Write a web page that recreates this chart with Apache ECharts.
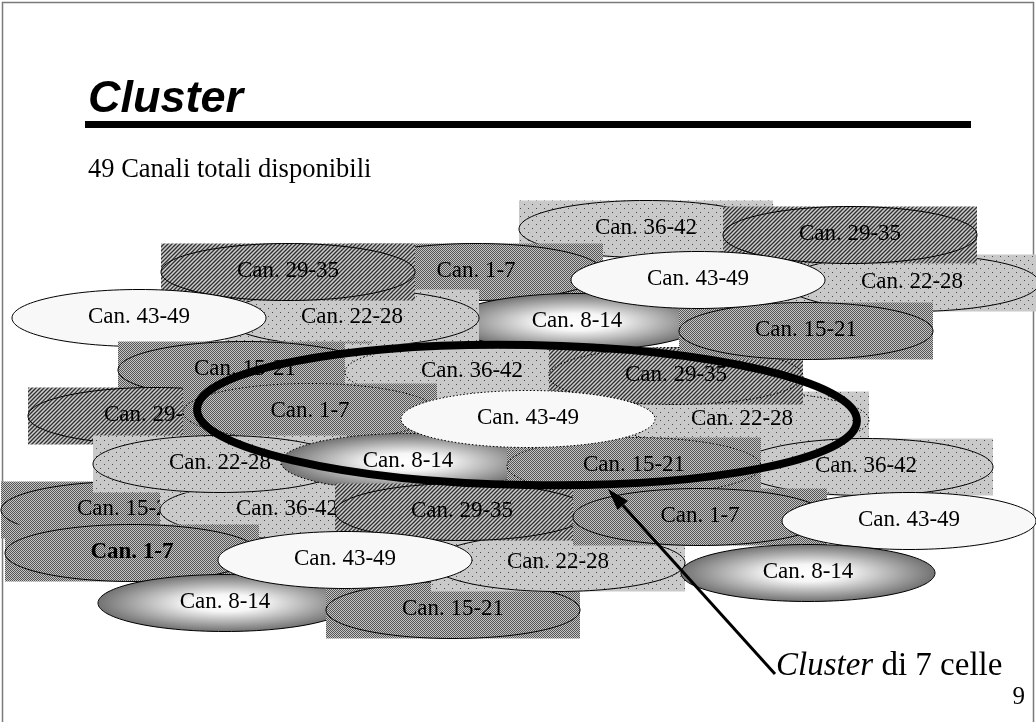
<!DOCTYPE html>
<html>
<head>
<meta charset="utf-8">
<script src="https://cdn.jsdelivr.net/npm/echarts@6/dist/echarts.min.js"></script>
<style>
  html, body { margin: 0; padding: 0; background: #fff; }
  #chart { width: 1036px; height: 722px; }
</style>
</head>
<body>
<div id="chart"></div>
<script>
// celle nell'ordine di disegno (dal basso verso l'alto)
const cellChannels = [
  '36-42', '22-28', '29-35', '1-7', '8-14', '22-28', '29-35', '43-49',
  '15-21', '36-42', '22-28', '29-35', '15-21', '43-49', '29-35', '1-7',
  '15-21', '36-42', '22-28', '36-42', '8-14', '15-21', '43-49', '1-7',
  '8-14', '15-21', '22-28', '29-35', '1-7', '43-49', '8-14', '43-49'
]
const cellX = [
  646, 912, 850, 476, 577, 352, 288, 139,
  245, 472, 742, 676, 806, 698, 155, 310,
  128, 287, 220, 866, 408, 634, 528, 132,
  225, 453, 558, 462, 700, 909, 808, 345
]
const cellY = [
  229, 283, 235, 272, 322, 318, 272, 318,
  370, 372, 420, 376, 331, 280, 416, 412,
  510, 510, 464, 467, 462, 466, 419, 553,
  603, 610, 563, 512, 517, 521, 573, 560
]
// le 7 celle del cluster (indici nelle liste sopra)
const clusterCells = [9, 10, 11, 15, 20, 21, 22]
const boldCell = 23
const clusterCenter = [527, 415]
const arrowFrom = [775, 674]
const arrowTo = [608, 489]

const CELL_W = 254
const CELL_H = 57

/**
 * crea un pattern ripetuto su canvas
 */
const makePattern = (size, bg, draw) => {
  const c = document.createElement('canvas')
  c.width = c.height = size
  const ctx = c.getContext('2d')
  ctx.fillStyle = bg
  ctx.fillRect(0, 0, size, size)
  draw(ctx)
  return { image: c, repeat: 'repeat' }
}

const hatch = makePattern(8, '#cdcdcd', ctx => {
  ctx.strokeStyle = '#303030'
  ctx.lineWidth = 1.3
  for (let c = -4; c <= 24; c += 4) {
    ctx.beginPath()
    ctx.moveTo(c + 2, -2)
    ctx.lineTo(c - 10, 10)
    ctx.stroke()
  }
})

const dots = makePattern(8, '#c9c9c9', ctx => {
  ctx.fillStyle = '#4a4a4a'
  ctx.fillRect(0, 0, 1, 1)
  ctx.fillRect(4, 4, 1, 1)
})

const check = makePattern(2, '#c4c4c4', ctx => {
  ctx.fillStyle = '#555555'
  ctx.fillRect(0, 0, 1, 1)
  ctx.fillRect(1, 1, 1, 1)
})

const shade = {
  type: 'radial', x: 0.5, y: 0.5, r: 0.5,
  colorStops: [
    { offset: 0, color: '#ffffff' },
    { offset: 0.3, color: '#f6f6f6' },
    { offset: 1, color: '#727272' }
  ]
}

const channelFill = {
  '1-7': check,
  '15-21': check,
  '22-28': dots,
  '36-42': dots,
  '29-35': hatch,
  '43-49': null,
  '8-14': null
}

const cellData = cellChannels.map((ch, i) => [cellX[i], cellY[i], i])

const renderCell = (params, api) => {
  const i = api.value(2)
  const ch = cellChannels[i]
  const c = api.coord([api.value(0), api.value(1)])
  const s = api.size([CELL_W, CELL_H])
  const rx = s[0] / 2
  const ry = s[1] / 2
  const pattern = channelFill[ch]
  const dash = clusterCells.includes(i) ? [1.5, 2] : null
  const base = i * 4
  const children = []
  if (pattern) {
    children.push({
      type: 'rect', z2: base,
      shape: { x: c[0] - rx, y: c[1] - ry, width: s[0], height: s[1] },
      style: { fill: pattern }
    })
  }
  if (ch === '8-14') {
    // sfumatura ellittica: cerchio scalato in orizzontale
    children.push({
      type: 'circle', z2: base + 1,
      x: c[0], y: c[1], scaleX: rx / ry,
      shape: { cx: 0, cy: 0, r: ry },
      style: { fill: shade }
    })
  }
  children.push({
    type: 'ellipse', z2: base + 2,
    shape: { cx: c[0], cy: c[1], rx: rx, ry: ry },
    style: {
      fill: ch === '8-14' ? null : (pattern || '#f8f8f8'),
      stroke: '#000', lineWidth: 1, lineDash: dash
    }
  })
  children.push({
    type: 'text', z2: base + 3,
    x: c[0], y: c[1] - 1,
    style: {
      text: 'Can. ' + ch,
      font: (i === boldCell ? 'bold ' : '') + '23px "Liberation Serif"',
      fill: '#000',
      align: 'center',
      verticalAlign: 'middle'
    }
  })
  return { type: 'group', children }
}

const renderCluster = (params, api) => {
  const c = api.coord([api.value(0), api.value(1)])
  const s = api.size([330, 70])
  return {
    type: 'ellipse',
    x: c[0], y: c[1], rotation: -0.018,
    shape: { cx: 0, cy: 0, rx: s[0], ry: s[1] },
    style: { fill: null, stroke: '#000', lineWidth: 8 },
    z2: 500
  }
}

const renderArrow = (params, api) => {
  const p0 = api.coord([api.value(0), api.value(1)])
  const p1 = api.coord([api.value(2), api.value(3)])
  const ang = Math.atan2(p1[1] - p0[1], p1[0] - p0[0])
  const len = 22
  const half = 7
  const bx = p1[0] - len * Math.cos(ang)
  const by = p1[1] - len * Math.sin(ang)
  const nx = -Math.sin(ang)
  const ny = Math.cos(ang)
  return {
    type: 'group',
    children: [
      {
        type: 'line', z2: 600,
        shape: { x1: p0[0], y1: p0[1], x2: bx, y2: by },
        style: { stroke: '#000', lineWidth: 3 }
      },
      {
        type: 'polygon', z2: 601,
        shape: { points: [p1, [bx + nx * half, by + ny * half], [bx - nx * half, by - ny * half]] },
        style: { fill: '#000' }
      }
    ]
  }
}

const chart = echarts.init(document.getElementById('chart'), null, { renderer: 'canvas' })

chart.setOption({
  animation: false,
  backgroundColor: '#fff',
  grid: { left: 0, right: 0, top: 0, bottom: 0 },
  xAxis: { type: 'value', min: 0, max: 1036, show: false },
  yAxis: { type: 'value', min: 0, max: 722, inverse: true, show: false },
  graphic: [
    {
      type: 'rect',
      shape: { x: 2.5, y: 2.5, width: 1031, height: 740 },
      style: { fill: null, stroke: '#7a7a7a', lineWidth: 1.5 }
    },
    {
      type: 'text', x: 88, y: 100,
      style: { text: 'Cluster', font: 'italic bold 45px "Liberation Sans"', fill: '#000', verticalAlign: 'middle' }
    },
    {
      type: 'rect',
      shape: { x: 85, y: 121, width: 886, height: 7 },
      style: { fill: '#000' }
    },
    {
      type: 'text', x: 88, y: 170,
      style: { text: '49 Canali totali disponibili', font: '26.5px "Liberation Serif"', fill: '#000', verticalAlign: 'middle' }
    },
    {
      type: 'text', x: 776, y: 666, z: 10,
      style: {
        text: '{i|Cluster} di 7 celle',
        font: '33px "Liberation Serif"',
        fill: '#000',
        verticalAlign: 'middle',
        rich: { i: { fontStyle: 'italic', fontSize: 33, fontFamily: 'Liberation Serif' } }
      }
    },
    {
      type: 'text', x: 1025, y: 697,
      style: { text: '9', font: '25px "Liberation Serif"', fill: '#000', align: 'right', verticalAlign: 'middle' }
    }
  ],
  series: [
    {
      type: 'custom',
      name: 'celle',
      renderItem: renderCell,
      data: cellData,
      silent: true,
      z: 2
    },
    {
      type: 'custom',
      name: 'cluster',
      renderItem: renderCluster,
      data: [clusterCenter],
      silent: true,
      z: 3
    },
    {
      type: 'custom',
      name: 'freccia',
      renderItem: renderArrow,
      data: [[arrowFrom[0], arrowFrom[1], arrowTo[0], arrowTo[1]]],
      silent: true,
      z: 4
    }
  ]
})
</script>
</body>
</html>
